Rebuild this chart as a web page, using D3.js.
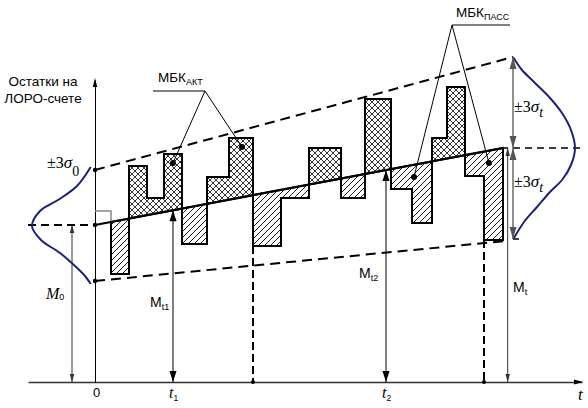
<!DOCTYPE html>
<html><head><meta charset="utf-8">
<script src="https://cdn.jsdelivr.net/npm/d3@7"></script>
<style>body{margin:0;background:#fff}svg{display:block}</style>
</head><body>
<svg id="c" width="588" height="408"></svg>
<script>
// ---------- data (time units t, balance units M) ----------
const M0 = 157;            // starting mean balance
const Mt = 234;            // mean balance at horizon
const tHorizon = 408;      // end of trend / last bar
const upperBand = [[0, 212], [418, 325]];   // +3σ envelope
const lowerBand = [[0, 101], [410, 141]];   // -3σ envelope
const initialLevel = [[0, 171], [16, 171]]; // grey starting step
const segStarts = [16, 34, 52, 69, 87, 112, 134, 158, 186, 214, 246, 270, 296, 317, 337, 352, 370, 389];
const segEnds   = [34, 52, 69, 87, 112, 134, 158, 186, 214, 246, 270, 296, 317, 337, 352, 370, 389, 408];
const segValues = [108, 216, 184, 228, 138, 205, 244, 136, 184, 234, 184, 283, 193, 159, 244, 295, 206, 142];
const tickT = [0, 78, 291];          // 0, t1, t2
const tickLabels = ["0", "t1", "t2"];
const cutT = [158, 389];             // dashed vertical cuts
const tMt = 412.7;
const leftCurve = [[-4.3,215],[-18,196],[-37,182],[-55,171],[-63,156],[-54,142],[-35,129],[-20,116],[-10,106],[-4.3,98]];
const rightCurve = [[418,325],[427,312],[440,299],[455,284],[467,269],[476,252],[480,234],[476,217],[467,202],[455,190],[442,175],[429,160],[419,144]];
const aktDots = [[78, 219], [147, 235]];
const passDots = [[319, 205], [394, 219]];

// ---------- scales ----------
const x = d3.scaleLinear().domain([0, 410]).range([95, 505]);
const y = d3.scaleLinear().domain([0, 300]).range([382, 82]);
const trend = t => M0 + (Mt - M0) * t / tHorizon;

const svg = d3.select("#c");
const defs = svg.append("defs");
const hp = defs.append("pattern").attr("id", "hatch").attr("patternUnits", "userSpaceOnUse")
  .attr("width", 6).attr("height", 6);
hp.append("path").attr("d", "M-1,1 l2,-2 M0,6 l6,-6 M5,7 l2,-2").attr("stroke", "#000").attr("stroke-width", 0.9);
const cp = defs.append("pattern").attr("id", "cross").attr("patternUnits", "userSpaceOnUse")
  .attr("width", 6).attr("height", 6);
cp.append("path").attr("d", "M-1,1 l2,-2 M0,6 l6,-6 M5,7 l2,-2 M-1,5 l2,2 M0,0 l6,6 M5,-1 l2,2")
  .attr("stroke", "#000").attr("stroke-width", 0.8);

const serif = "Liberation Serif, Times New Roman, serif";
const sans = "Liberation Sans, Arial, sans-serif";

// ---------- axes ----------
const xAxisScale = x.copy().domain([-67, 487]).range([x(-67), x(487)]);
const yAxisScale = y.copy().domain([0, 302]).range([y(0), y(302)]);
const gx = svg.append("g").attr("transform", `translate(0,${y(0)})`)
  .call(d3.axisBottom(xAxisScale).tickValues([]).tickSizeOuter(0));
gx.select(".domain").attr("stroke", "#333").attr("stroke-width", 1.4);
const gy = svg.append("g").attr("transform", `translate(${x(0)},0)`)
  .call(d3.axisLeft(yAxisScale).tickValues([]).tickSizeOuter(0));
gy.select(".domain").attr("stroke", "#000").attr("stroke-width", 1);

function head(px, py, dir, len, w, col) {
  const s = dir === "up" ? 1 : -1;
  svg.append("path").attr("d", `M${px},${py} L${px - w / 2},${py + s * len} L${px + w / 2},${py + s * len} Z`)
    .attr("fill", col || "#000");
}
function headR(px, py, len, w) {
  svg.append("path").attr("d", `M${px},${py} L${px - len},${py - w / 2} L${px - len},${py + w / 2} Z`).attr("fill", "#000");
}
head(x(0), y(302) - 2, "up", 9, 4.5);
headR(xAxisScale(487) + 1, y(0), 9, 5);

// ---------- bars grouped by sign ----------
const segs = segStarts.map((s, i) => ({ t0: s, t1: segEnds[i], v: segValues[i] }));
segs.forEach(s => s.akt = s.v > trend((s.t0 + s.t1) / 2));
const groups = [];
segs.forEach(s => {
  const g = groups[groups.length - 1];
  if (g && g.akt === s.akt) g.segs.push(s); else groups.push({ akt: s.akt, segs: [s] });
});
const line = d3.line().x(d => x(d[0])).y(d => y(d[1]));
groups.forEach(g => {
  const a = g.segs[0].t0, b = g.segs[g.segs.length - 1].t1;
  const pts = [[a, trend(a)]];
  g.segs.forEach(s => { pts.push([s.t0, s.v]); pts.push([s.t1, s.v]); });
  pts.push([b, trend(b)]);
  svg.append("path").attr("d", line(pts) + "Z")
    .attr("fill", g.akt ? "url(#cross)" : "url(#hatch)")
    .attr("stroke", "#000").attr("stroke-width", 2).attr("stroke-linejoin", "miter");
});

// grey initial step
svg.append("path").attr("d", line([...initialLevel, [16, trend(16)]]))
  .attr("fill", "none").attr("stroke", "#888").attr("stroke-width", 1.5);

// trend line (mean)
svg.append("path").attr("d", line([[0, trend(0)], [tHorizon, trend(tHorizon)]]))
  .attr("stroke", "#000").attr("stroke-width", 2.2);
// dashed extensions and bands
const dash = (pts, w, da) => svg.append("path").attr("d", line(pts)).attr("fill", "none")
  .attr("stroke", "#000").attr("stroke-width", w).attr("stroke-dasharray", da);
dash([[-67, M0], [0, M0]], 2, "8,5");
dash([[tHorizon - 2, Mt], [487, Mt]], 1.6, "7,5");
dash(upperBand, 2, "10,6");
dash(lowerBand, 2, "10,6");
cutT.forEach(t => {
  const s = segs.find(d => d.t0 === t);
  dash([[t, s.v], [t, 0]], 2, "8,4");
  svg.append("circle").attr("cx", x(t)).attr("cy", y(0)).attr("r", 2);
});

// dots on y axis
[M0, upperBand[0][1], lowerBand[0][1]].forEach(v =>
  svg.append("circle").attr("cx", x(0)).attr("cy", y(v)).attr("r", 2.2));

// gaussian curves
const curve = d3.line().x(d => x(d[0])).y(d => y(d[1])).curve(d3.curveCatmullRom);
[leftCurve, rightCurve].forEach(c => svg.append("path").attr("d", curve(c)).attr("fill", "none")
  .attr("stroke", "#1b2378").attr("stroke-width", 2));

// ---------- measurement arrows ----------
function vArrow(t, v0, v1, col, len, w, sw) {
  svg.append("line").attr("x1", x(t)).attr("x2", x(t)).attr("y1", y(v0)).attr("y2", y(v1))
    .attr("stroke", col).attr("stroke-width", sw || 1);
  head(x(t), y(v0), "down", len, w, col);
  head(x(t), y(v1), "up", len, w, col);
}
vArrow(-23, 0, M0, "#333", 8, 4.5);
vArrow(tickT[1], 0, trend(tickT[1]), "#000", 11, 7);
vArrow(tickT[2], 0, trend(tickT[2]), "#000", 11, 7);
vArrow(tMt, 0, Mt, "#333", 8, 4.5);
vArrow(418, Mt, upperBand[1][1], "#555", 12, 7, 1.3);
vArrow(418, lowerBand[1][1] + 2, Mt, "#555", 12, 7, 1.3);
svg.append("line").attr("x1", x(418)).attr("x2", x(424)).attr("y1", y(lowerBand[1][1] + 2)).attr("y2", y(lowerBand[1][1] + 2))
  .attr("stroke", "#000").attr("stroke-width", 1.5);

// ---------- leader lines ----------
function leader(anchor, under, dots) {
  svg.append("line").attr("x1", x(under[0])).attr("x2", x(under[1])).attr("y1", y(under[2])).attr("y2", y(under[2]))
    .attr("stroke", "#000").attr("stroke-width", 1);
  dots.forEach(d => {
    svg.append("line").attr("x1", x(anchor)).attr("y1", y(under[2])).attr("x2", x(d[0])).attr("y2", y(d[1]))
      .attr("stroke", "#000").attr("stroke-width", 1);
    svg.append("circle").attr("cx", x(d[0])).attr("cy", y(d[1])).attr("r", 3);
  });
}
leader(110, [58, 110, 291], aktDots);
leader(357, [357, 415, 357], passDots);

// ---------- text ----------
function txt(px, py, parts, anchor) {
  const t = svg.append("text").attr("x", px).attr("y", py).attr("text-anchor", anchor || "start");
  parts.forEach(p => {
    const s = t.append("tspan").text(p.s).attr("font-family", p.f || sans).attr("font-size", p.z || 13)
      .attr("font-style", p.i ? "italic" : "normal");
    if (p.dy) s.attr("dy", p.dy);
  });
  return t;
}
txt(43, 86, [{ s: "Остатки на", z: 13.5 }], "middle");
txt(43, 103, [{ s: "ЛОРО-счете", z: 13.5 }], "middle");
txt(158, 82, [{ s: "МБК", z: 13.5 }, { s: "АКТ", z: 9, dy: 3 }]);
txt(456, 17, [{ s: "МБК", z: 13.5 }, { s: "ПАСС", z: 9, dy: 3 }]);
txt(47, 168, [{ s: "±3", f: serif, z: 16 }, { s: "σ", f: serif, z: 17, i: 1 }, { s: "0", f: serif, z: 14, dy: 8 }]);
txt(514, 112, [{ s: "±3", f: serif, z: 16 }, { s: "σ", f: serif, z: 17, i: 1 }, { s: "t", f: serif, z: 14, i: 1, dy: 5 }]);
txt(514, 187, [{ s: "±3", f: serif, z: 16 }, { s: "σ", f: serif, z: 17, i: 1 }, { s: "t", f: serif, z: 14, i: 1, dy: 5 }]);
txt(46, 299, [{ s: "M", f: serif, z: 16, i: 1 }, { s: "0", z: 9, dy: 1 }]);
txt(150, 307, [{ s: "M", z: 14 }, { s: "t1", z: 9, dy: 3 }]);
txt(359, 278, [{ s: "M", z: 14 }, { s: "t2", z: 9, dy: 3 }]);
txt(513, 292, [{ s: "M", z: 14 }, { s: "t", z: 9, dy: 3 }]);
// tick labels
txt(x(tickT[0]) + 1.5, 397, [{ s: tickLabels[0], z: 13 }], "middle");
[1, 2].forEach(i => txt(x(tickT[i]) - 4, 398, [{ s: tickLabels[i][0], f: serif, z: 16, i: 1 }, { s: tickLabels[i][1], z: 8.5, dy: 3 }]));
txt(578, 400, [{ s: "t", f: serif, z: 17, i: 1 }]);
</script>
</body></html>
